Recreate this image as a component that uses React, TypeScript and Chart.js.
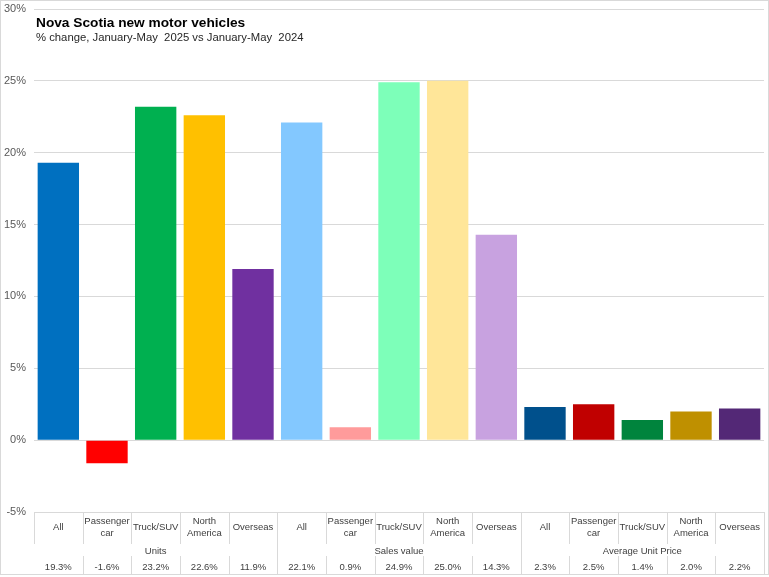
import React, { useEffect, useRef } from "react";
import { Chart, registerables } from "chart.js";

Chart.register(...registerables);

const categories: string[][] = [
  ["All"], ["Passenger", "car"], ["Truck/SUV"], ["North", "America"], ["Overseas"],
  ["All"], ["Passenger", "car"], ["Truck/SUV"], ["North", "America"], ["Overseas"],
  ["All"], ["Passenger", "car"], ["Truck/SUV"], ["North", "America"], ["Overseas"],
];
const groups: string[] = ["Units", "Sales value", "Average Unit Price"];
const groupSize = 5;
const values: number[] = [19.3, -1.6, 23.2, 22.6, 11.9, 22.1, 0.9, 24.9, 25.0, 14.3, 2.3, 2.5, 1.4, 2.0, 2.2];
const valueLabels: string[] = ["19.3%", "-1.6%", "23.2%", "22.6%", "11.9%", "22.1%", "0.9%", "24.9%", "25.0%", "14.3%", "2.3%", "2.5%", "1.4%", "2.0%", "2.2%"];
const barColors: string[] = [
  "#0070C0", "#FF0000", "#00B050", "#FFC000", "#7030A0",
  "#83C8FF", "#FF9B9B", "#7DFFB9", "#FFE699", "#C8A2E0",
  "#00508C", "#C00000", "#00843D", "#BF9000", "#532876",
];
const titleText = "Nova Scotia new motor vehicles";
const subtitleText = "% change, January-May  2025 vs January-May  2024";

const FONT = "'Liberation Sans', Arial, sans-serif";
const GRID = "#D9D9D9";
const TEXT = "#404040";

const tablePlugin = {
  id: "tablePlugin",
  afterDraw(chart: any) {
    const ctx = chart.ctx as CanvasRenderingContext2D;
    const area = chart.chartArea;
    const xs = chart.scales.x;
    const n = categories.length;
    const cw = (area.right - area.left) / n;
    const top = area.bottom;
    const catBottom = top + 32;
    const valTop = top + 44;
    const bottom = top + 62;
    ctx.save();
    ctx.strokeStyle = GRID;
    ctx.lineWidth = 1;
    const vline = (x: number, y1: number, y2: number) => {
      const px = Math.round(x) + 0.5;
      ctx.beginPath();
      ctx.moveTo(px, y1);
      ctx.lineTo(px, y2);
      ctx.stroke();
    };
    for (let i = 0; i <= n; i++) {
      const x = area.left + i * cw;
      if (i % groupSize === 0 && i !== 0) {
        vline(x, top, bottom);
      } else if (i === 0) {
        vline(x, top, catBottom);
      } else {
        vline(x, top, catBottom);
        vline(x, valTop, bottom);
      }
    }
    ctx.beginPath();
    ctx.moveTo(0, bottom + 0.5);
    ctx.lineTo(chart.width, bottom + 0.5);
    ctx.stroke();
    ctx.strokeRect(0.5, 0.5, chart.width - 1, bottom);

    ctx.fillStyle = TEXT;
    ctx.textAlign = "center";
    ctx.textBaseline = "middle";
    ctx.font = `9.5px ${FONT}`;
    for (let i = 0; i < n; i++) {
      const cx = xs.getPixelForValue(i);
      const lines = categories[i];
      if (lines.length === 1) {
        ctx.fillText(lines[0], cx, top + 15);
      } else {
        ctx.fillText(lines[0], cx, top + 9);
        ctx.fillText(lines[1], cx, top + 21);
      }
      ctx.fillText(valueLabels[i], cx, top + 55);
    }
    for (let g = 0; g < groups.length; g++) {
      const cx = area.left + (g * groupSize + groupSize / 2) * cw;
      ctx.fillText(groups[g], cx, top + 39);
    }

    ctx.textAlign = "left";
    ctx.textBaseline = "alphabetic";
    ctx.fillStyle = "#000000";
    ctx.font = `bold 13.7px ${FONT}`;
    ctx.fillText(titleText, 36, 27);
    ctx.fillStyle = "#262626";
    ctx.font = `11.3px ${FONT}`;
    ctx.fillText(subtitleText, 36, 41);
    ctx.restore();
  },
};

export default function App() {
  const ref = useRef<HTMLCanvasElement | null>(null);
  useEffect(() => {
    document.body.style.margin = "0";
    const canvas = ref.current!;
    const chart = new Chart(canvas, {
      type: "bar",
      data: {
        labels: categories.map((c) => c.join(" ")),
        datasets: [
          {
            data: values,
            backgroundColor: barColors,
            barPercentage: 0.85,
            categoryPercentage: 1,
          },
        ],
      },
      options: {
        animation: false,
        responsive: false,
        devicePixelRatio: 1,
        layout: { padding: { top: 9, right: 5, bottom: 65, left: 0 } },
        plugins: { legend: { display: false }, tooltip: { enabled: false }, title: { display: false } },
        scales: {
          x: { display: false, offset: true, grid: { display: false } },
          y: {
            min: -5,
            max: 30,
            ticks: {
              stepSize: 5,
              padding: 8,
              color: "#595959",
              font: { family: FONT, size: 11 },
              callback: (v: any) => `${v}%`,
            },
            grid: { color: GRID, drawTicks: false },
            border: { display: false },
            afterFit: (s: any) => {
              s.width = 34;
              s.paddingTop = 0;
              s.paddingBottom = 0;
            },
          },
        },
      },
      plugins: [tablePlugin],
    });
    return () => chart.destroy();
  }, []);
  return (
    <div style={{ width: 769, height: 577 }}>
      <canvas ref={ref} width={769} height={577} style={{ display: "block" }} />
    </div>
  );
}
